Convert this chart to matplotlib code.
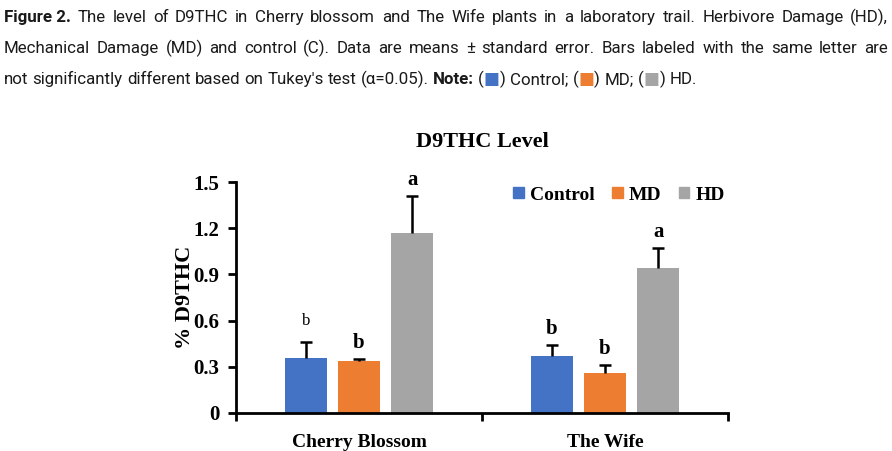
import numpy as np
import matplotlib.pyplot as plt
from matplotlib.patches import Patch

# Datos
groups = ['Cherry Blossom', 'The Wife']
series = ['Control', 'MD', 'HD']
control = [0.36, 0.37]
md = [0.34, 0.26]
hd = [1.17, 0.94]
control_se = [0.10, 0.07]
md_se = [0.01, 0.05]
hd_se = [0.24, 0.13]
control_letters = ['b', 'b']
md_letters = ['b', 'b']
hd_letters = ['a', 'a']

colors = ['#4472C4', '#ED7D31', '#A5A5A5']
serif = 'Liberation Serif'
cap_font = ['Roboto', 'DejaVu Sans']

# Texto de la leyenda de la figura (** = negrita, #n = cuadro de color, _ = espacio fijo)
caption_lines = [
    "**Figure_2. The level of D9THC in Cherry blossom and The Wife plants in a laboratory trail. Herbivore Damage (HD),",
    "Mechanical Damage (MD) and control (C). Data are means ± standard error. Bars labeled with the same letter are",
    "not significantly different based on Tukey's test (α=0.05). **Note: (#0) Control; (#1) MD; (#2) HD.",
]


def parse_word(word):
    # devuelve lista de (texto, kwargs)
    pieces = []
    bold = word.startswith('**')
    if bold:
        word = word[2:]
    word = word.replace('_', ' ')
    buf = ''
    i = 0
    while i < len(word):
        if word[i] == '#' and i + 1 < len(word) and word[i + 1].isdigit():
            if buf:
                pieces.append((buf, dict(fontweight='bold' if bold else 'normal')))
                buf = ''
            pieces.append(('■', dict(color=colors[int(word[i + 1])], family=['DejaVu Sans'])))
            i += 2
            continue
        buf += word[i]
        i += 1
    if buf:
        pieces.append((buf, dict(fontweight='bold' if bold else 'normal')))
    return pieces


def measure(fig, renderer, words, size):
    widths = []
    for w in words:
        ww = []
        for t, k in w:
            kk = dict(family=cap_font, fontsize=size)
            kk.update(k)
            tx = fig.text(0, 0, t, **kk)
            ww.append(tx.get_window_extent(renderer).width)
            tx.remove()
        widths.append(ww)
    tx = fig.text(0, 0, 'a a', family=cap_font, fontsize=size)
    t2 = fig.text(0, 0, 'aa', family=cap_font, fontsize=size)
    space = tx.get_window_extent(renderer).width - t2.get_window_extent(renderer).width
    tx.remove()
    t2.remove()
    return widths, space


def draw_caption(fig, renderer, line, y_px, justify, size, x0=4, x1=888):
    W, H = fig.get_size_inches() * fig.dpi
    words = [parse_word(w) for w in line.split(' ')]
    widths, space = measure(fig, renderer, words, size)
    total = sum(sum(w) for w in widths)
    gap = (x1 - x0 - total) / (len(words) - 1) if justify else space
    x = x0
    for w, ww in zip(words, widths):
        for (t, k), wd in zip(w, ww):
            kk = dict(family=cap_font, fontsize=size, color='#1a1a1a')
            kk.update(k)
            fig.text(x / W, 1 - y_px / H, t, va='baseline', ha='left', **kk)
            x += wd
        x += gap
    return x - gap


def main():
    fig = plt.figure(figsize=(8.92, 4.51), dpi=100)
    renderer = fig.canvas.get_renderer()

    # tamaño de letra para que la última línea termine donde la original (~700 px)
    last = [parse_word(w) for w in caption_lines[2].split(' ')]
    wd, sp = measure(fig, renderer, last, 10)
    natural = sum(sum(w) for w in wd) + sp * (len(last) - 1)
    size = 10 * 696 / natural

    for i, line in enumerate(caption_lines):
        draw_caption(fig, renderer, line, 22 + 31 * i, justify=(i < 2), size=size)

    ax = fig.add_axes([236 / 892, 38 / 451, 492 / 892, 231 / 451])

    x = np.array([0.5, 1.5])
    off = 0.216
    bw = 0.172
    vals = [control, md, hd]
    errs = [control_se, md_se, hd_se]
    letters = [control_letters, md_letters, hd_letters]
    for j in range(3):
        xs = x + (j - 1) * off
        ax.bar(xs, vals[j], bw, color=colors[j], zorder=2)
        eb = ax.errorbar(xs, vals[j], yerr=[np.zeros(2), errs[j]], fmt='none',
                         ecolor='black', elinewidth=1.8, capsize=4, capthick=1.8, zorder=3)
        eb[1][0].set_visible(False)  # sin tope abajo
        for k in range(2):
            top = vals[j][k] + errs[j][k]
            if j == 0 and k == 0:
                ax.text(xs[k], top + 0.085, letters[j][k], ha='center', va='bottom',
                        family=serif, fontsize=12, clip_on=False)
            else:
                ax.text(xs[k], top + 0.04, letters[j][k], ha='center', va='bottom',
                        family=serif, fontsize=15, fontweight='bold', clip_on=False)

    ax.set_xlim(0, 2)
    ax.set_ylim(0, 1.5)
    ax.set_yticks([0, 0.3, 0.6, 0.9, 1.2, 1.5])
    ax.set_yticklabels(['0', '0.3', '0.6', '0.9', '1.2', '1.5'])
    ax.set_xticks([0, 1, 2])
    ax.set_xticklabels([])
    ax.set_xticks(x, minor=True)
    ax.set_xticklabels(groups, minor=True)
    ax.tick_params(axis='x', which='minor', length=0, pad=15)
    ax.tick_params(axis='x', which='major', length=6, width=2, direction='out')
    ax.tick_params(axis='y', length=6, width=2, direction='out', pad=6)
    for lab in ax.get_yticklabels():
        lab.set_family(serif)
        lab.set_fontweight('bold')
        lab.set_fontsize(15)
    for lab in ax.get_xticklabels(minor=True):
        lab.set_family(serif)
        lab.set_fontweight('bold')
        lab.set_fontsize(14)
    for s in ['top', 'right']:
        ax.spines[s].set_visible(False)
    for s in ['left', 'bottom']:
        ax.spines[s].set_linewidth(2)

    ax.set_ylabel('% D9THC', family=serif, fontweight='bold', fontsize=16, labelpad=-1)
    fig.text(482 / 892, 1 - 142 / 451, 'D9THC Level', ha='center', va='center',
             family=serif, fontweight='bold', fontsize=16)

    handles = [Patch(color=c, label=s) for c, s in zip(colors, series)]
    ax.legend(handles=handles, ncol=3, frameon=False, loc='center',
              bbox_to_anchor=(619 / 892, 1 - 195 / 451), bbox_transform=fig.transFigure,
              prop=dict(family=serif, weight='bold', size=14),
              handlelength=0.55, handleheight=0.55, handletextpad=0.3, columnspacing=0.9)

    plt.savefig('out.png', dpi=100)
    plt.close()


if __name__ == "__main__":
    main()
